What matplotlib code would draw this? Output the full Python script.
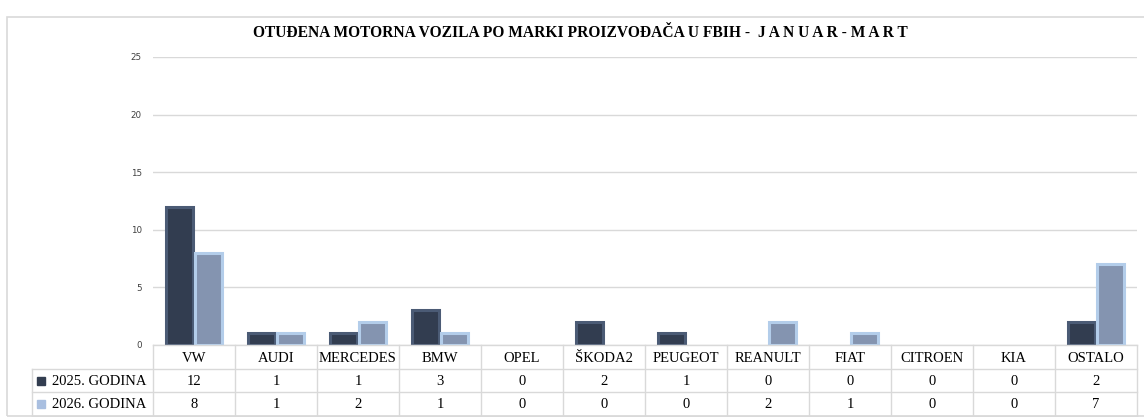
import matplotlib

matplotlib.use("Agg")
import matplotlib.pyplot as plt
from matplotlib.patches import Rectangle
from matplotlib.lines import Line2D

# data
brands = ["VW", "AUDI", "MERCEDES", "BMW", "OPEL", "ŠKODA2", "PEUGEOT",
          "REANULT", "FIAT", "CITROEN", "KIA", "OSTALO"]
y2025 = [12, 1, 1, 3, 0, 2, 1, 0, 0, 0, 0, 2]
y2026 = [8, 1, 2, 1, 0, 0, 0, 2, 1, 0, 0, 7]
series_names = ["2025. GODINA", "2026. GODINA"]
yticks = [0, 5, 10, 15, 20, 25]
title = "OTUĐENA MOTORNA VOZILA PO MARKI PROIZVOĐAČA U FBIH -  J A N U A R - M A R T"

W, H = 1144, 417
fig = plt.figure(figsize=(W / 100, H / 100), dpi=100)
fig.patch.set_facecolor("white")


def fx(px):
    return px / W


def fy(py):
    return 1 - py / H


GRID = "#d9d9d9"
DARK_FACE, DARK_EDGE = "#323d50", "#4b5b75"
LIGHT_FACE, LIGHT_EDGE = "#8494b0", "#b3cdea"
serif = ["Liberation Serif", "DejaVu Serif"]

# outer chart frame
fig.add_artist(Rectangle((fx(7), fy(416)), fx(1150) - fx(7), fy(17) - fy(416),
                         transform=fig.transFigure, fill=False,
                         edgecolor=GRID, linewidth=1.2))

left, right, top, base = 153, 1137, 57, 345
ax = fig.add_axes([fx(left), fy(base), fx(right) - fx(left), fy(top) - fy(base)])
ax.set_xlim(-0.5, len(brands) - 0.5)
ax.set_ylim(0, 25)
for s in ax.spines.values():
    s.set_visible(False)
ax.set_xticks([])
ax.set_yticks(yticks)
ax.tick_params(axis="y", length=0, pad=8, labelsize=6.3, labelcolor="#404040")
ax.yaxis.grid(True, color=GRID, linewidth=1)
ax.set_axisbelow(True)

x = list(range(len(brands)))
w = 0.33
off = 0.18
for vals, sign, face, edge in [(y2025, -1, DARK_FACE, DARK_EDGE),
                               (y2026, 1, LIGHT_FACE, LIGHT_EDGE)]:
    bars = ax.bar([i + sign * off for i in x], vals, width=w, color=face,
                  edgecolor=edge, linewidth=2.2, zorder=3)
    for bar, v in zip(bars, vals):
        if v == 0:
            bar.set_visible(False)

fig.text(0.507, fy(33), title, ha="center", va="center", fontsize=11.2,
         fontweight="bold", family=serif)

# data table below the axes
rows = [345, 369, 392, 416]
label_left = 32
cell_w = (right - left) / len(brands)
lines = []
for r in rows[1:]:
    lines.append(([label_left, right], [r, r]))
lines.append(([left, right], [rows[0], rows[0]]))
for k in range(len(brands) + 1):
    xx = left + k * cell_w
    lines.append(([xx, xx], [rows[0], rows[-1]]))
lines.append(([label_left, label_left], [rows[1], rows[-1]]))
for xs, ys in lines:
    fig.add_artist(Line2D([fx(v) for v in xs], [fy(v) for v in ys],
                          transform=fig.transFigure, color=GRID, linewidth=1))

for k, b in enumerate(brands):
    cx = left + (k + 0.5) * cell_w
    fig.text(fx(cx), fy((rows[0] + rows[1]) / 2 + 1), b, ha="center",
             va="center", fontsize=10.5, family=serif)
    for r, vals in enumerate([y2025, y2026]):
        fig.text(fx(cx), fy((rows[r + 1] + rows[r + 2]) / 2 + 1), str(vals[k]),
                 ha="center", va="center", fontsize=10.5, family=serif)

for r, (name, col) in enumerate(zip(series_names, [DARK_FACE, "#a9bfe0"])):
    cy = (rows[r + 1] + rows[r + 2]) / 2
    fig.add_artist(Rectangle((fx(37), fy(cy + 4)), fx(8), fy(0) - fy(8),
                             transform=fig.transFigure, color=col))
    fig.text(fx(52), fy(cy + 1), name, ha="left", va="center",
             fontsize=10.5, family=serif)

fig.savefig("out.png", dpi=100)
